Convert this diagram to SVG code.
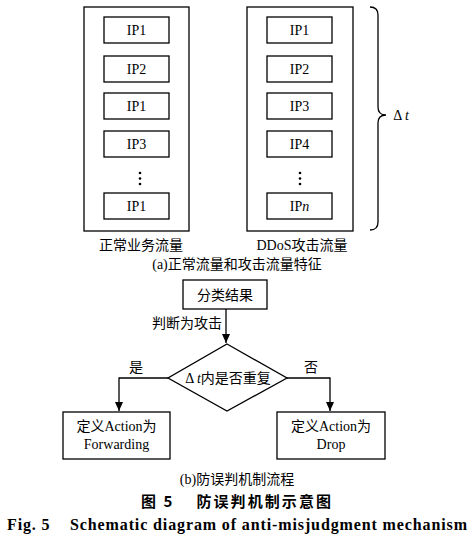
<svg xmlns="http://www.w3.org/2000/svg" width="475" height="542" viewBox="0 0 475 542">
<defs>
<style>
.b{fill:#fff;stroke:#000;stroke-width:1.3}
.t{font-family:"Liberation Serif","Noto Sans CJK SC",serif;font-size:14px;fill:#000;text-anchor:middle}
.l{fill:none;stroke:#000;stroke-width:1.3}
.d{fill:#000}
</style>
<marker id="ah" markerWidth="10" markerHeight="10" refX="9" refY="5" orient="auto" markerUnits="userSpaceOnUse">
<path d="M0,1 L9,5 L0,9 Z" fill="#000"/>
</marker>
</defs>
<rect width="475" height="542" fill="#fff"/>
<g id="normal">
<rect class="b" x="84" y="7" width="105" height="224"/>
<rect class="b" x="104" y="17" width="65" height="26"/><text class="t" x="136.5" y="35">IP1</text>
<rect class="b" x="104" y="56" width="65" height="26"/><text class="t" x="136.5" y="74">IP2</text>
<rect class="b" x="104" y="93" width="65" height="26"/><text class="t" x="136.5" y="111">IP1</text>
<rect class="b" x="104" y="131" width="65" height="26"/><text class="t" x="136.5" y="149">IP3</text>
<circle class="d" cx="140" cy="173" r="1.3"/><circle class="d" cx="140" cy="178.5" r="1.3"/><circle class="d" cx="140" cy="184" r="1.3"/>
<rect class="b" x="104" y="193" width="65" height="26"/><text class="t" x="136.5" y="211">IP1</text>
<text class="t" x="141" y="250">正常业务流量</text>
</g>
<g id="ddos">
<rect class="b" x="247" y="7" width="106" height="224"/>
<rect class="b" x="267" y="17" width="65" height="26"/><text class="t" x="299.5" y="35">IP1</text>
<rect class="b" x="267" y="56" width="65" height="26"/><text class="t" x="299.5" y="74">IP2</text>
<rect class="b" x="267" y="93" width="65" height="26"/><text class="t" x="299.5" y="111">IP3</text>
<rect class="b" x="267" y="131" width="65" height="26"/><text class="t" x="299.5" y="149">IP4</text>
<circle class="d" cx="300" cy="173" r="1.3"/><circle class="d" cx="300" cy="178.5" r="1.3"/><circle class="d" cx="300" cy="184" r="1.3"/>
<rect class="b" x="267" y="193" width="65" height="26"/><text class="t" x="299.5" y="211">IP<tspan font-style="italic">n</tspan></text>
<text class="t" x="302" y="250">DDoS攻击流量</text>
</g>
<g id="brace">
<path class="l" d="M370,7 Q378,7 378,15 L378,107 Q378,115 386,115 Q378,115 378,123 L378,222 Q378,230 370,230"/>
<text class="t" x="401" y="120">Δ <tspan font-style="italic">t</tspan></text>
</g>
<text class="t" x="237" y="269">(a)正常流量和攻击流量特征</text>
<g id="classify">
<rect class="b" x="183" y="280" width="84" height="29"/>
<text class="t" x="225" y="299.5">分类结果</text>
</g>
<g id="decision">
<polygon class="b" points="227,344 287,378 227,411 168,378"/>
<text class="t" x="228" y="383">Δ <tspan font-style="italic">t</tspan>内是否重复</text>
</g>
<g id="forward">
<rect class="b" x="63" y="412" width="107" height="47"/>
<text class="t" x="116.5" y="431">定义Action为</text>
<text class="t" x="116.5" y="449">Forwarding</text>
</g>
<g id="drop">
<rect class="b" x="277" y="412" width="108" height="47"/>
<text class="t" x="331" y="431">定义Action为</text>
<text class="t" x="331" y="449">Drop</text>
</g>
<g id="connectors">
<path class="l" d="M226,309 L226,343" marker-end="url(#ah)"/>
<text class="t" x="187" y="328">判断为攻击</text>
<path class="l" d="M168,378 L119,378 L119,411" marker-end="url(#ah)"/>
<text class="t" x="136" y="372">是</text>
<path class="l" d="M287,378 L330,378 L330,411" marker-end="url(#ah)"/>
<text class="t" x="311" y="372">否</text>
</g>
<text class="t" x="237" y="484">(b)防误判机制流程</text>
<text x="236" y="507" style="font-family:'Noto Sans CJK SC',sans-serif;font-size:15px;font-weight:bold;text-anchor:middle" textLength="190" lengthAdjust="spacing" xml:space="preserve">图 5    防误判机制示意图</text>
<text x="237" y="530" style="font-family:'Liberation Serif',serif;font-size:16px;font-weight:bold;text-anchor:middle" textLength="460" lengthAdjust="spacing" xml:space="preserve">Fig. 5    Schematic diagram of anti-misjudgment mechanism</text>
</svg>
